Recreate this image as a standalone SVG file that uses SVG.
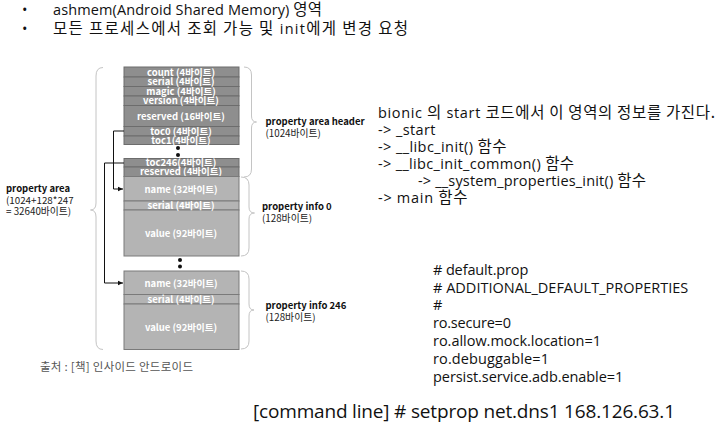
<svg xmlns="http://www.w3.org/2000/svg" width="720" height="424" viewBox="0 0 720 424">
<defs>
<style>
.bg{fill:#ffffff}
.dk{fill:#8e8e8e;stroke:#6c6c6c;stroke-width:1}
.lt{fill:#b4b4b4;stroke:#7a7a7a;stroke-width:1}
.bt{font-family:"Noto Sans CJK KR","Noto Sans",sans-serif;font-size:9.5px;font-weight:bold;fill:#ffffff;text-anchor:middle}
.lb{font-family:"Noto Sans CJK KR","Noto Sans",sans-serif;font-size:9.5px;font-weight:bold;fill:#111111}
.ls{font-family:"Noto Sans CJK KR","Noto Sans",sans-serif;font-size:9.8px;fill:#222222}
.brace{fill:none;stroke:#c4c4c4;stroke-width:1}
.conn{fill:none;stroke:#111111;stroke-width:1}
.dot{fill:#111111}
.big{font-family:"Open Sans","Noto Sans CJK KR",sans-serif;font-size:14.5px;fill:#111111}
.k{font-family:"Noto Sans CJK KR",sans-serif;font-size:15.5px}
.src{font-family:"Noto Sans CJK KR",sans-serif;font-size:11.5px;fill:#555555}
.cmd{font-family:"Open Sans","Noto Sans CJK KR",sans-serif;font-size:19px;fill:#111111}
</style>
<marker id="ah" markerWidth="6" markerHeight="6" refX="5" refY="3" orient="auto" markerUnits="userSpaceOnUse">
<path d="M0,0.8 L5,3 L0,5.2 Z" fill="#111111"/>
</marker>
</defs>
<rect class="bg" x="0" y="0" width="720" height="424"/>

<g id="bullets">
<text class="big" x="22" y="15">•</text>
<text class="big" x="53" y="15" textLength="269">ashmem(Android Shared Memory) <tspan class="k">영역</tspan></text>
<text class="big" x="22" y="34">•</text>
<text class="big" x="53" y="34" textLength="355"><tspan class="k">모든 프로세스에서 조회 가능 및</tspan> init<tspan class="k">에게 변경 요청</tspan></text>
</g>

<g id="header-block">
<rect class="dk" x="124" y="67" width="115" height="10"/>
<rect class="dk" x="124" y="77" width="115" height="9.5"/>
<rect class="dk" x="124" y="86.5" width="115" height="9.5"/>
<rect class="dk" x="124" y="96" width="115" height="9.5"/>
<rect class="dk" x="124" y="105.5" width="115" height="21"/>
<rect class="dk" x="124" y="126.5" width="115" height="9.5"/>
<rect class="dk" x="124" y="136" width="115" height="8.5"/>
<text class="bt" x="181" y="75.5">count (4바이트)</text>
<text class="bt" x="181" y="85">serial (4바이트)</text>
<text class="bt" x="181" y="94.5">magic (4바이트)</text>
<text class="bt" x="181" y="104">version (4바이트)</text>
<text class="bt" x="181" y="119.5">reserved  (16바이트)</text>
<text class="bt" x="181" y="134.5">toc0 (4바이트)</text>
<text class="bt" x="181" y="143.5">toc1(4바이트)</text>
</g>

<g id="dots1">
<circle class="dot" cx="178" cy="148" r="2"/>
<circle class="dot" cx="178" cy="155" r="2"/>
</g>

<g id="toc-block">
<rect class="dk" x="124" y="158.5" width="115" height="8.5"/>
<rect class="dk" x="124" y="167" width="115" height="9.5"/>
<text class="bt" x="181" y="166">toc246(4바이트)</text>
<text class="bt" x="181" y="175">reserved  (4바이트)</text>
</g>

<g id="info0-block">
<rect class="lt" x="124" y="176.5" width="115" height="24.5"/>
<rect class="lt" x="124" y="201" width="115" height="9"/>
<rect class="lt" x="124" y="210" width="115" height="46"/>
<text class="bt" x="181" y="192.5">name (32바이트)</text>
<text class="bt" x="181" y="209">serial (4바이트)</text>
<text class="bt" x="181" y="236.5">value (92바이트)</text>
</g>

<g id="dots2">
<circle class="dot" cx="180" cy="260" r="2"/>
<circle class="dot" cx="180" cy="266.5" r="2"/>
</g>

<g id="info246-block">
<rect class="lt" x="124" y="271" width="115" height="23.5"/>
<rect class="lt" x="124" y="294.5" width="115" height="9.5"/>
<rect class="lt" x="124" y="304" width="115" height="45.5"/>
<text class="bt" x="181" y="286.5">name (32바이트)</text>
<text class="bt" x="181" y="302.5">serial (4바이트)</text>
<text class="bt" x="181" y="330.5">value (92바이트)</text>
</g>

<g id="braces">
<path class="brace" d="M103,67.5 Q96,67.5 96,76 V203 Q96,210 90.5,210 Q96,210 96,217 V341 Q96,349.5 103,349.5"/>
<path class="brace" d="M244,67 Q251.5,67 251.5,75 V116 Q251.5,122 256.5,122 Q251.5,122 251.5,128 V169 Q251.5,177 244,177"/>
<path class="brace" d="M241,177 Q249,177 249,185 V207 Q249,213 254.5,213 Q249,213 249,219 V248 Q249,256 241,256"/>
<path class="brace" d="M241,271 Q249,271 249,279 V304 Q249,310 254,310 Q249,310 249,316 V341 Q249,349 241,349"/>
</g>

<g id="connectors">
<path class="conn" d="M124,131 H113.5 V189 H123" marker-end="url(#ah)"/>
<path class="conn" d="M124,163 H104.5 V283 H123" marker-end="url(#ah)"/>
</g>

<g id="labels">
<text class="lb" x="6" y="192">property area</text>
<text class="ls" x="6" y="203.5">(1024+128*247</text>
<text class="ls" x="6" y="215">= 32640바이트)</text>
<text class="lb" x="265.5" y="125">property area header</text>
<text class="ls" x="265.5" y="136.5">(1024바이트)</text>
<text class="lb" x="262" y="210">property info 0</text>
<text class="ls" x="262" y="221.5">(128바이트)</text>
<text class="lb" x="265.5" y="309">property info 246</text>
<text class="ls" x="265.5" y="320.5">(128바이트)</text>
</g>

<g id="source">
<text class="src" x="40" y="371" textLength="153">출처 : [책] 인사이드 안드로이드</text>
</g>

<g id="bionic-text">
<text class="big" x="378" y="118" textLength="337">bionic <tspan class="k">의</tspan> start <tspan class="k">코드에서 이 영역의 정보를 가진다.</tspan></text>
<text class="big" x="378" y="135" textLength="57.5">-&gt; _start</text>
<text class="big" x="378" y="152" textLength="128.5">-&gt; __libc_init() <tspan class="k">함수</tspan></text>
<text class="big" x="378" y="169" textLength="196">-&gt; __libc_init_common() <tspan class="k">함수</tspan></text>
<text class="big" x="418" y="186" textLength="228">-&gt; __system_properties_init() <tspan class="k">함수</tspan></text>
<text class="big" x="378" y="203" textLength="89.5">-&gt; main <tspan class="k">함수</tspan></text>
</g>

<g id="default-prop">
<text class="big" x="433" y="275" textLength="95.3">#  default.prop</text>
<text class="big" x="433" y="292.5" textLength="255.3">#  ADDITIONAL_DEFAULT_PROPERTIES</text>
<text class="big" x="433" y="310">#</text>
<text class="big" x="433" y="328" textLength="78">ro.secure=0</text>
<text class="big" x="433" y="346" textLength="168">ro.allow.mock.location=1</text>
<text class="big" x="433" y="364" textLength="116">ro.debuggable=1</text>
<text class="big" x="433" y="382" textLength="190.3">persist.service.adb.enable=1</text>
</g>

<g id="command">
<text class="cmd" x="253" y="418" textLength="422">[command line] # setprop net.dns1 168.126.63.1</text>
</g>
</svg>
